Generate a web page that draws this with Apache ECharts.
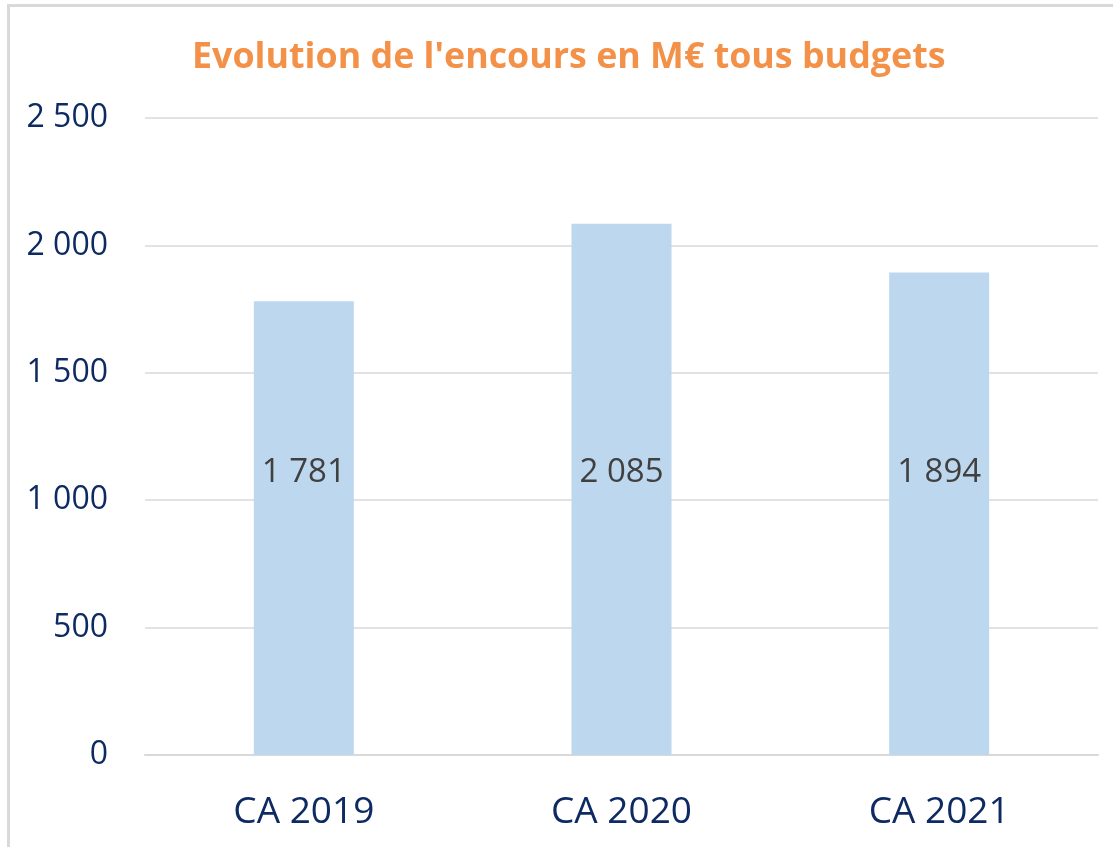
<!DOCTYPE html>
<html>
<head>
<meta charset="utf-8">
<script src="https://cdn.jsdelivr.net/npm/echarts@6/dist/echarts.min.js"></script>
<style>
  html, body { margin: 0; padding: 0; background: #fff; }
  #frame { position: absolute; left: 7px; top: 4px; width: 1200px; height: 1000px; border-left: 3px solid #d9d9d9; border-top: 3px solid #d9d9d9; }
  #chart { position: absolute; left: 0; top: 0; width: 1113px; height: 847px; }
</style>
</head>
<body>
<div id="frame"></div>
<div id="chart"></div>
<script>
const titleText = "Evolution de l'encours en M€ tous budgets";
const categories = ["CA 2019", "CA 2020", "CA 2021"];
const encours = [1781, 2085, 1894];
const yTicks = [0, 500, 1000, 1500, 2000, 2500];

function fmt(v) {
  return String(v).replace(/\B(?=(\d{3})+(?!\d))/g, ' ');
}

const chart = echarts.init(document.getElementById('chart'), null, { renderer: 'canvas' });
chart.setOption({
  backgroundColor: 'transparent',
  animation: false,
  title: {
    text: titleText,
    left: 187,
    top: 35,
    textStyle: { color: '#F39148', fontSize: 35.8, fontWeight: 'bold', fontFamily: 'Open Sans' }
  },
  grid: { left: 145, right: 15, top: 118, bottom: 92, containLabel: false },
  xAxis: {
    type: 'category',
    data: categories,
    axisLine: { show: true, lineStyle: { color: '#d9d9d9', width: 2 } },
    axisTick: { show: false },
    axisLabel: { color: '#0E2A62', fontSize: 37, fontFamily: 'Open Sans', margin: 39 }
  },
  yAxis: {
    type: 'value',
    min: yTicks[0],
    max: yTicks[yTicks.length - 1],
    interval: 500,
    axisLine: { show: false },
    axisTick: { show: false },
    splitLine: { lineStyle: { color: '#d9d9d9', width: 1.5 } },
    axisLabel: { color: '#0E2A62', fontSize: 32, fontFamily: 'Open Sans', margin: 37, formatter: v => fmt(v) }
  },
  series: [{
    type: 'bar',
    data: encours,
    barWidth: 100,
    itemStyle: { color: '#BDD7EE' },
    label: {
      show: true,
      position: 'insideBottom',
      distance: 266,
      color: '#404040',
      fontSize: 33,
      fontFamily: 'Open Sans',
      formatter: p => fmt(p.value)
    }
  }]
});
</script>
</body>
</html>
